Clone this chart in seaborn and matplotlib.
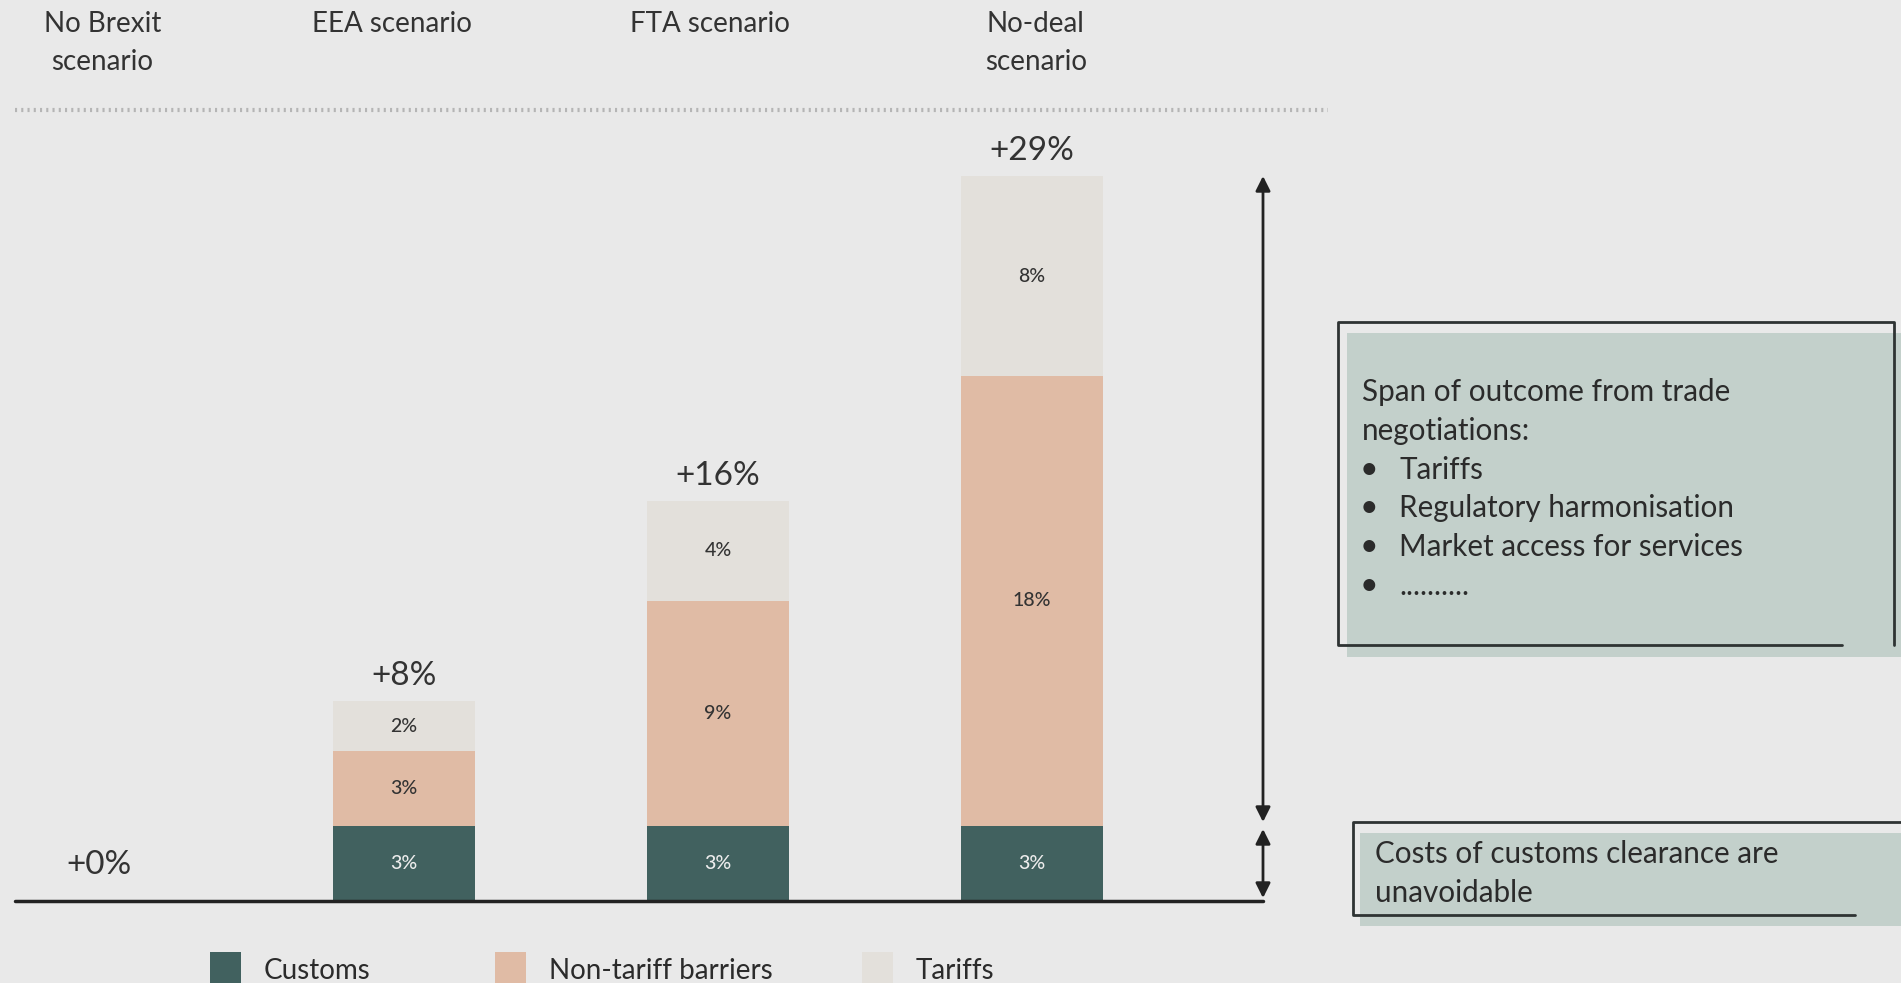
import matplotlib
matplotlib.use('Agg')

import pandas as pd
import numpy as np
import matplotlib.pyplot as plt
import matplotlib.transforms as mtransforms
from matplotlib.patches import Rectangle
from matplotlib.lines import Line2D
import seaborn as sns

# data
scenarios = ['No Brexit\nscenario', 'EEA scenario', 'FTA scenario', 'No-deal\nscenario']
customs = [0, 3, 3, 3]
non_tariff = [0, 3, 9, 18]
tariffs = [0, 2, 4, 8]
series_names = ['Customs', 'Non-tariff barriers', 'Tariffs']
colors = ['#41615f', '#e0bba5', '#e3e0db']
box1_head = ['Span of outcome from trade', 'negotiations:']
box1_items = ['Tariffs', 'Regulatory harmonisation', 'Market access for services', '..........']
box2_lines = ['Costs of customs clearance are', 'unavoidable']

# small nudges for the header labels (layout only)
header_dx = [0.04, -0.039, -0.027, 0.012]

W, H = 1901, 983
BG = '#e9e9e9'
DARK = '#2e3333'

sns.set_style('white')
plt.rcParams['font.family'] = ['Lato', 'DejaVu Sans']

df = pd.DataFrame({'scenario': scenarios, 'customs': customs,
                   'non_tariff': non_tariff, 'tariffs': tariffs})
df['c1'] = df['customs']
df['c2'] = df['customs'] + df['non_tariff']
df['c3'] = df['c2'] + df['tariffs']

fig = plt.figure(figsize=(W / 100, H / 100), dpi=100)
fig.patch.set_facecolor(BG)

def fx(x):
    return x / W

def fy(y):
    return 1 - y / H

ax = fig.add_axes([fx(15), fy(901), 1248 / W, (901 - 110) / H])
ax.set_facecolor('none')

# stacked bars: draw cumulative totals from the top down
for col, c in zip(['c3', 'c2', 'c1'], colors[::-1]):
    sns.barplot(data=df, x='scenario', y=col, color=c, saturation=1,
                width=0.452, ax=ax, errorbar=None, edgecolor='none', linewidth=0)

XMIN = -0.239
ax.set_xlim(XMIN, XMIN + 1248 / 314)
ax.set_ylim(0, 31.64)
ax.set_xlabel('')
ax.set_ylabel('')
ax.set_xticks([])
ax.set_yticks([])
sns.despine(ax=ax, left=True, bottom=True)
XMAX = ax.get_xlim()[1]

# segment labels
bottoms = np.zeros(len(scenarios))
for vals, name in zip([customs, non_tariff, tariffs], series_names):
    for i, v in enumerate(vals):
        if v > 0:
            tc = '#ececec' if name == 'Customs' else '#333333'
            ax.text(i, bottoms[i] + v / 2, f'{v}%', ha='center', va='center',
                    fontsize=14, color=tc, fontweight='medium')
    bottoms += np.array(vals)

# totals
for i, t in enumerate(df['c3']):
    off = 1.0 if t > 0 else 1.45
    ax.text(i + (0.03 if t == 0 else 0), t + off, f'+{t}%', ha='center', va='center',
            fontsize=24, color='#333333')

# header labels
trans = mtransforms.blended_transform_factory(ax.transData, fig.transFigure)
for i, s in enumerate(scenarios):
    ax.text(i + header_dx[i], fy(11), s, transform=trans, ha='center', va='top',
            fontsize=20, color='#333333', linespacing=1.55, clip_on=False)

# baseline and dotted separator
ax.axhline(0, color='#222222', lw=2.5, clip_on=False)
ax.axhline(31.64, xmin=0, xmax=(1328 - 15) / 1248, color='#b5b5b5', lw=3,
           linestyle=(0, (0.5, 1.0)), clip_on=False)

# span arrows
top = df['c3'].max()
ax.annotate('', xy=(XMAX, top), xytext=(XMAX, 3.16),
            arrowprops=dict(arrowstyle='<|-|>', color='#222222', lw=2, mutation_scale=22,
                            shrinkA=0, shrinkB=0), annotation_clip=False)
ax.annotate('', xy=(XMAX, 2.88), xytext=(XMAX, 0.12),
            arrowprops=dict(arrowstyle='<|-|>', color='#222222', lw=2, mutation_scale=22,
                            shrinkA=0, shrinkB=0), annotation_clip=False)

# side boxes
def fig_rect(x0, y0, x1, y1, **kw):
    fig.patches.append(Rectangle((fx(x0), fy(y1)), (x1 - x0) / W, (y1 - y0) / H,
                                 transform=fig.transFigure, figure=fig, **kw))

def fig_line(xs, ys):
    fig.lines.append(Line2D([fx(x) for x in xs], [fy(y) for y in ys],
                            transform=fig.transFigure, figure=fig, color=DARK, lw=2))

fig_rect(1347, 333, 1905, 657, facecolor='#c3d0cb', edgecolor='none')
fig_line([1842, 1338, 1338, 1894, 1894], [645, 645, 322, 322, 645])
fig_rect(1360, 833, 1905, 926, facecolor='#c3d0cb', edgecolor='none')
fig_line([1855, 1353, 1353, 1905], [915, 915, 822, 822])

ly = 392
for line in box1_head:
    fig.text(fx(1362), fy(ly), line, ha='left', va='center', fontsize=21.3, color='#2b2b2b')
    ly += 38.8
for item in box1_items:
    fig.text(fx(1369), fy(ly), '\u2022', ha='center', va='center', fontsize=23, color='#2b2b2b')
    fig.text(fx(1399), fy(ly), item, ha='left', va='center', fontsize=21.3, color='#2b2b2b')
    ly += 38.8

ly = 854
for line in box2_lines:
    fig.text(fx(1375), fy(ly), line, ha='left', va='center', fontsize=21.3, color='#2b2b2b')
    ly += 39

# legend
lx = [210, 495, 862]
for x, name, c in zip(lx, series_names, colors):
    fig_rect(x, 952, x + 31, 990, facecolor=c, edgecolor='none')
    fig.text(fx(x + 54), fy(971), name, ha='left', va='center', fontsize=20, color='#2b2b2b')

fig.savefig('out.png', dpi=100, facecolor=BG)
